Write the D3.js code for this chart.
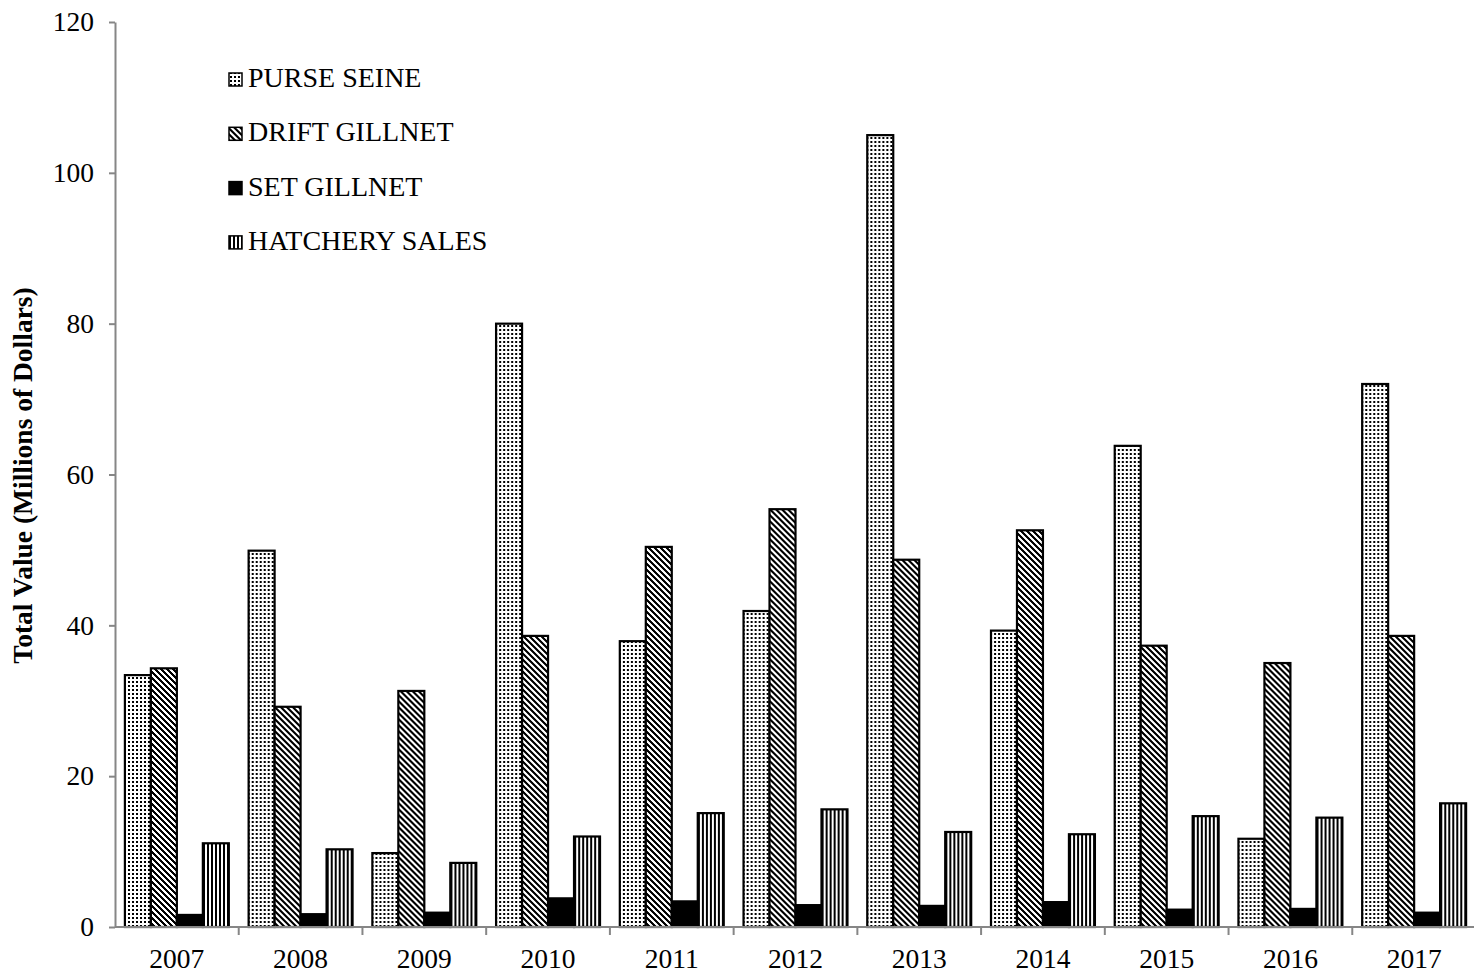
<!DOCTYPE html>
<html>
<head>
<meta charset="utf-8">
<script src="https://cdn.jsdelivr.net/npm/d3@7"></script>
<style>
  html, body { margin: 0; padding: 0; background: #fff; }
  svg { display: block; }
  text { font-family: "Liberation Serif", "Times New Roman", serif; fill: #000; }
</style>
</head>
<body>
<svg id="chart" width="1474" height="976"></svg>
<script>
// Annual value by gear type, millions of dollars
const years = ["2007", "2008", "2009", "2010", "2011", "2012", "2013", "2014", "2015", "2016", "2017"];
const seriesNames = ["PURSE SEINE", "DRIFT GILLNET", "SET GILLNET", "HATCHERY SALES"];
const purseSeine    = [33.4, 49.9, 9.8, 80.0, 37.9, 41.9, 105.0, 39.3, 63.8, 11.7, 72.0];
const driftGillnet  = [34.3, 29.2, 31.3, 38.6, 50.4, 55.4, 48.7, 52.6, 37.3, 35.0, 38.6];
const setGillnet    = [1.6, 1.7, 1.9, 3.8, 3.4, 2.9, 2.8, 3.3, 2.3, 2.4, 1.9];
const hatcherySales = [11.1, 10.3, 8.5, 12.0, 15.1, 15.6, 12.6, 12.3, 14.7, 14.5, 16.4];
const yTicks = [0, 20, 40, 60, 80, 100, 120];
const yLabel = "Total Value (Millions of Dollars)";

const seriesValues = [purseSeine, driftGillnet, setGillnet, hatcherySales];
const fills = ["url(#pat-dots)", "url(#pat-diag)", "#000", "url(#pat-vert)"];

const svg = d3.select("#chart");
const plot = { left: 115, right: 1476, top: 22, bottom: 927 };

// Fill patterns
const defs = svg.append("defs");

const dots = defs.append("pattern").attr("id", "pat-dots")
  .attr("patternUnits", "userSpaceOnUse").attr("width", 4).attr("height", 4);
dots.append("rect").attr("width", 4).attr("height", 4).attr("fill", "#fff");
dots.append("rect").attr("x", 1).attr("y", 1).attr("width", 2).attr("height", 2)
  .attr("fill", "#000").attr("shape-rendering", "crispEdges");

const diag = defs.append("pattern").attr("id", "pat-diag")
  .attr("patternUnits", "userSpaceOnUse").attr("width", 6).attr("height", 6);
diag.append("rect").attr("width", 6).attr("height", 6).attr("fill", "#fff");
const diagCells = [];
for (let py = 0; py < 6; py++) {
  for (let px = 0; px < 6; px++) {
    if (((px - py) % 6 + 6) % 6 < 3) diagCells.push([px, py]);
  }
}
diag.selectAll("rect.cell").data(diagCells).join("rect").attr("class", "cell")
  .attr("x", d => d[0]).attr("y", d => d[1]).attr("width", 1).attr("height", 1)
  .attr("fill", "#000").attr("shape-rendering", "crispEdges");

const vert = defs.append("pattern").attr("id", "pat-vert")
  .attr("patternUnits", "userSpaceOnUse").attr("width", 4).attr("height", 4);
vert.append("rect").attr("width", 4).attr("height", 4).attr("fill", "#fff");
vert.append("rect").attr("x", 0).attr("y", 0).attr("width", 2).attr("height", 4)
  .attr("fill", "#000").attr("shape-rendering", "crispEdges");

// Scales
const x0 = d3.scaleBand().domain(years).range([plot.left, plot.right]).padding(0);
const bw = x0.bandwidth();
const x1 = d3.scaleBand().domain(seriesNames).range([0.08 * bw, 0.92 * bw]).padding(0);
const y = d3.scaleLinear().domain([0, 120]).range([plot.bottom, plot.top]);

// Bars
const groups = svg.append("g").selectAll("g")
  .data(years).join("g")
  .attr("transform", d => `translate(${x0(d)},0)`);

groups.selectAll("rect")
  .data((yr, i) => seriesNames.map((s, k) => ({ s, k, v: seriesValues[k][i] })))
  .join("rect")
  .attr("x", d => x1(d.s))
  .attr("y", d => y(d.v))
  .attr("width", x1.bandwidth())
  .attr("height", d => y(0) - y(d.v))
  .attr("fill", d => fills[d.k])
  .attr("stroke", "#000")
  .attr("stroke-width", 2.2);

// Y axis
const yAxis = svg.append("g")
  .attr("transform", `translate(${plot.left},0)`)
  .call(d3.axisLeft(y).tickValues(yTicks).tickSize(6).tickPadding(15).tickSizeOuter(0));
yAxis.select(".domain").attr("stroke", "#868686").attr("stroke-width", 2);
yAxis.selectAll(".tick line").attr("stroke", "#868686").attr("stroke-width", 2);
yAxis.selectAll(".tick text")
  .style("font-family", '"Liberation Serif", "Times New Roman", serif')
  .style("font-size", "27.5px").attr("fill", "#000");

// X axis (ticks at category boundaries)
const xg = svg.append("g").attr("transform", `translate(0,${plot.bottom})`);
xg.append("line")
  .attr("x1", plot.left).attr("x2", plot.right)
  .attr("stroke", "#868686").attr("stroke-width", 2);
xg.selectAll("line.tk")
  .data(years.slice(1).concat(["end"]))
  .join("line").attr("class", "tk")
  .attr("x1", (d, i) => i < years.length - 1 ? x0(d) : plot.right)
  .attr("x2", (d, i) => i < years.length - 1 ? x0(d) : plot.right)
  .attr("y1", 0).attr("y2", 8)
  .attr("stroke", "#868686").attr("stroke-width", 2);
xg.selectAll("text")
  .data(years).join("text")
  .attr("x", d => x0(d) + bw / 2)
  .attr("y", 41)
  .attr("text-anchor", "middle")
  .style("font-size", "27.5px")
  .text(d => d);

// Y axis title
svg.append("text")
  .attr("transform", `translate(32,${(plot.top + plot.bottom) / 2 + 1}) rotate(-90)`)
  .attr("text-anchor", "middle")
  .style("font-size", "27.5px")
  .style("font-weight", "bold")
  .text(yLabel);

// Legend
const legend = svg.append("g").attr("transform", "translate(229,87)");
const items = legend.selectAll("g").data(seriesNames).join("g")
  .attr("transform", (d, i) => `translate(0,${i * 54.3})`);
items.append("rect")
  .attr("x", 0).attr("y", -14).attr("width", 13).attr("height", 13)
  .attr("fill", (d, i) => fills[i])
  .attr("stroke", "#000").attr("stroke-width", 1.5);
items.append("text")
  .attr("x", 19).attr("y", 0)
  .style("font-size", "28px")
  .text(d => d);
</script>
</body>
</html>
